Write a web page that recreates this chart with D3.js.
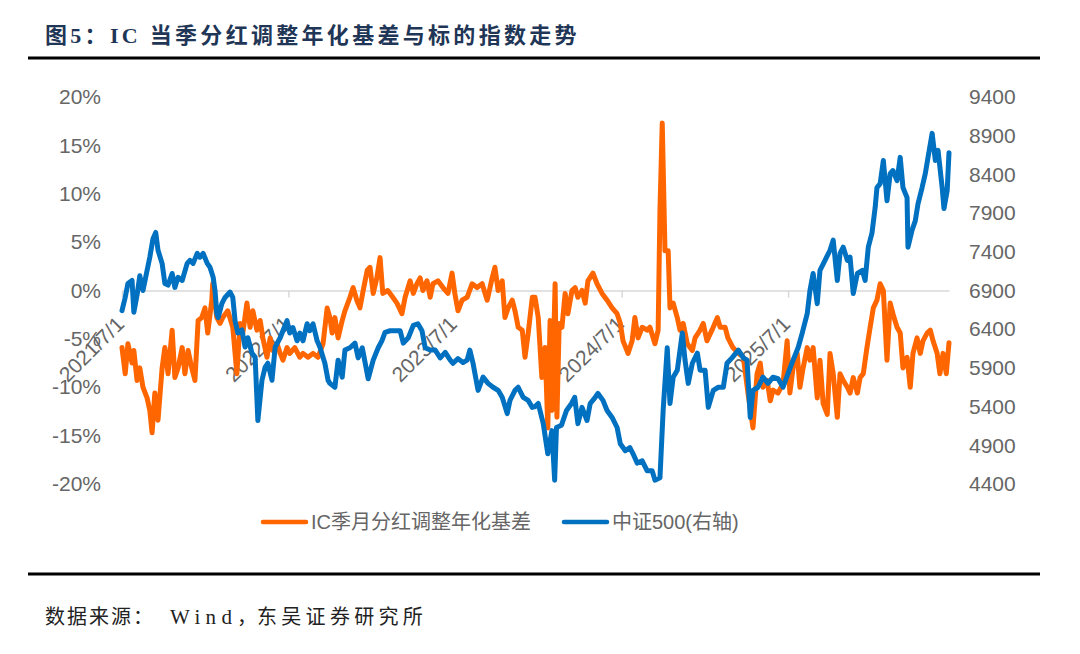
<!DOCTYPE html>
<html>
<head>
<meta charset="utf-8">
<script src="https://cdn.jsdelivr.net/npm/d3@7"></script>
<style>
    body { margin: 0; background: #fff; }
    svg { display: block; }
</style>
</head>
<body>
<svg></svg>
<script>
const width = 1080,
    height = 654;

const titleText = "图5：IC 当季分红调整年化基差与标的指数走势";
const sourceParts = ["数据来源：", "Wind", "，", "东吴证券研究所"];
const seriesNames = ["IC季月分红调整年化基差", "中证500(右轴)"];
const seriesColors = ["#ff6600", "#0070c0"];

const leftTicks = [-20, -15, -10, -5, 0, 5, 10, 15, 20];
const rightTicks = [4400, 4900, 5400, 5900, 6400, 6900, 7400, 7900, 8400, 8900, 9400];
const xTicks = ["2021-07-01", "2022-07-01", "2023-07-01", "2024-07-01", "2025-07-01"];

// IC 季月分红调整年化基差 (%)
const basis = [
    ["2021-07-01",-5.9],["2021-07-08",-8.6],["2021-07-14",-5.5],["2021-07-23",-7.5],["2021-07-27",-6.2],
    ["2021-08-03",-9.3],["2021-08-09",-8.0],["2021-08-16",-10.0],["2021-08-25",-11.1],["2021-08-31",-12.4],
    ["2021-09-05",-14.7],["2021-09-11",-10.6],["2021-09-18",-13.4],["2021-09-27",-8.0],["2021-10-03",-5.9],
    ["2021-10-10",-8.6],["2021-10-19",-4.1],["2021-10-25",-9.0],["2021-11-01",-8.0],["2021-11-10",-5.9],
    ["2021-11-16",-8.6],["2021-11-23",-6.2],["2021-12-01",-8.0],["2021-12-08",-9.3],["2021-12-15",-3.1],
    ["2021-12-23",-2.8],["2021-12-30",-1.8],["2022-01-05",-4.4],["2022-01-14",-1.0],["2022-01-16",0.7],
    ["2022-01-25",-2.8],["2022-02-01",-3.4],["2022-02-07",-2.8],["2022-02-18",-2.1],["2022-03-01",-3.8],
    ["2022-03-10",-8.6],["2022-03-17",-3.4],["2022-03-23",-4.4],["2022-04-01",-1.3],["2022-04-08",-3.8],
    ["2022-04-14",-2.1],["2022-04-23",-4.1],["2022-04-30",-3.1],["2022-05-06",-4.9],["2022-05-15",-6.9],
    ["2022-05-22",-4.9],["2022-05-28",-6.2],["2022-06-06",-5.5],["2022-06-13",-6.5],["2022-06-19",-7.2],
    ["2022-06-28",-5.9],["2022-07-04",-6.5],["2022-07-15",-5.9],["2022-07-26",-6.9],["2022-08-02",-6.5],
    ["2022-08-13",-6.9],["2022-08-24",-6.5],["2022-09-04",-6.9],["2022-09-15",-5.5],["2022-09-24",-1.8],
    ["2022-09-30",-2.8],["2022-10-05",-4.4],["2022-10-11",-2.8],["2022-10-18",-4.9],["2022-10-27",-3.1],
    ["2022-11-02",-2.1],["2022-11-13",-0.7],["2022-11-20",0.3],["2022-11-28",-1.0],["2022-12-05",-1.8],
    ["2022-12-12",0],["2022-12-21",2.1],["2022-12-27",2.4],["2023-01-03",-0.3],["2023-01-11",1.3],
    ["2023-01-18",3.4],["2023-01-24",-0.3],["2023-02-04",0],["2023-02-15",-0.7],["2023-02-24",-1.3],
    ["2023-03-07",-2.4],["2023-03-14",-0.7],["2023-03-25",1.0],["2023-04-01",-0.3],["2023-04-09",0.7],
    ["2023-04-16",1.3],["2023-04-22",0],["2023-05-01",1.0],["2023-05-08",-0.7],["2023-05-14",0.7],
    ["2023-05-25",1.0],["2023-06-05",0.3],["2023-06-16",-0.3],["2023-06-25",1.8],["2023-07-01",-0.3],
    ["2023-07-08",-2.1],["2023-07-17",-1.0],["2023-07-28",-0.7],["2023-08-08",0.7],["2023-08-19",0.3],
    ["2023-08-30",0.7],["2023-09-10",-1.0],["2023-09-21",1.3],["2023-09-27",2.4],["2023-10-04",0],
    ["2023-10-13",1.0],["2023-10-19",-2.8],["2023-10-26",-1.8],["2023-11-04",-1.0],["2023-11-10",-2.1],
    ["2023-11-17",-3.8],["2023-11-26",-4.1],["2023-12-02",-6.9],["2023-12-09",-4.4],["2023-12-18",-0.7],
    ["2023-12-24",-0.7],["2023-12-31",-2.8],["2024-01-08",-9.0],["2024-01-15",-5.9],["2024-01-21",-14.2],
    ["2024-01-26",-3.1],["2024-01-30",-12.4],["2024-02-06",0.7],["2024-02-10",-13.1],["2024-02-15",-3.4],
    ["2024-02-21",-3.8],["2024-02-28",-0.3],["2024-03-05",-2.4],["2024-03-14",0],["2024-03-21",0.3],
    ["2024-03-27",-0.7],["2024-04-05",0],["2024-04-12",-1.3],["2024-04-18",1.0],["2024-04-29",1.8],
    ["2024-05-08",0.7],["2024-05-19",-0.3],["2024-05-30",-1.0],["2024-06-10",-1.8],["2024-06-21",-2.4],
    ["2024-06-28",-3.4],["2024-07-04",-5.2],["2024-07-15",-6.5],["2024-07-24",-5.2],["2024-07-30",-2.8],
    ["2024-08-06",-4.9],["2024-08-15",-3.8],["2024-08-26",-4.1],["2024-09-01",-3.8],["2024-09-12",-5.5],
    ["2024-09-19",-4.1],["2024-09-23",8.3],["2024-09-28",17.3],["2024-10-04",4.1],["2024-10-11",4.1],
    ["2024-10-15",-1.8],["2024-10-22",-1.3],["2024-10-31",-2.8],["2024-11-06",-4.1],["2024-11-13",-3.4],
    ["2024-11-22",-5.5],["2024-12-03",-6.2],["2024-12-09",-4.9],["2024-12-20",-4.1],["2024-12-27",-3.4],
    ["2025-01-04",-5.2],["2025-01-15",-4.1],["2025-01-27",-2.8],["2025-02-02",-3.8],["2025-02-13",-3.8],
    ["2025-02-19",-4.9],["2025-03-02",-5.9],["2025-03-14",-6.5],["2025-03-25",-6.9],["2025-04-04",-10.6],
    ["2025-04-15",-14.2],["2025-04-24",-8.6],["2025-05-01",-7.5],["2025-05-07",-10.0],["2025-05-16",-9.3],
    ["2025-05-23",-11.4],["2025-05-29",-10.3],["2025-06-09",-10.6],["2025-06-20",-9.6],["2025-06-29",-5.2],
    ["2025-07-05",-10.6],["2025-07-12",-8.0],["2025-07-21",-6.5],["2025-07-27",-10.0],["2025-08-03",-8.0],
    ["2025-08-12",-5.9],["2025-08-18",-7.2],["2025-08-25",-5.9],["2025-09-03",-11.1],["2025-09-09",-7.2],
    ["2025-09-16",-11.7],["2025-09-25",-12.8],["2025-10-01",-6.5],["2025-10-08",-8.6],["2025-10-17",-13.1],
    ["2025-10-23",-8.6],["2025-10-30",-9.3],["2025-11-08",-10.0],["2025-11-14",-10.6],["2025-11-21",-9.0],
    ["2025-11-30",-10.6],["2025-12-06",-9.0],["2025-12-13",-8.6],["2025-12-21",-5.9],["2025-12-28",-3.8],
    ["2026-01-04",-1.8],["2026-01-12",-1.0],["2026-01-19",0.7],["2026-01-26",0],["2026-02-03",-7.2],
    ["2026-02-10",-1.3],["2026-02-16",-2.4],["2026-02-25",-3.8],["2026-03-04",-4.4],["2026-03-10",-8.0],
    ["2026-03-19",-6.9],["2026-03-26",-10.0],["2026-04-01",-6.5],["2026-04-10",-4.9],["2026-04-17",-6.5],
    ["2026-04-23",-5.2],["2026-05-02",-4.4],["2026-05-09",-4.1],["2026-05-15",-5.2],["2026-05-24",-6.5],
    ["2026-05-30",-8.6],["2026-06-06",-6.5],["2026-06-13",-8.6],["2026-06-19",-5.4]
];

// 中证500 (右轴)
const csi500 = [
    ["2021-07-01",6640],["2021-07-08",6810],["2021-07-14",6990],["2021-07-23",7030],["2021-07-27",6620],
    ["2021-08-03",6840],["2021-08-09",7090],["2021-08-16",6900],["2021-08-25",7160],["2021-08-31",7330],
    ["2021-09-07",7570],["2021-09-13",7650],["2021-09-18",7420],["2021-09-27",7250],["2021-10-03",6990],
    ["2021-10-10",6970],["2021-10-19",7120],["2021-10-25",6940],["2021-11-01",7070],["2021-11-10",7030],
    ["2021-11-21",7250],["2021-11-27",7290],["2021-12-04",7250],["2021-12-13",7380],["2021-12-19",7330],
    ["2021-12-26",7380],["2022-01-04",7250],["2022-01-10",7200],["2022-01-17",7070],["2022-01-21",6900],
    ["2022-01-25",6600],["2022-01-28",6550],["2022-02-05",6730],["2022-02-12",6810],["2022-02-23",6880],
    ["2022-03-01",6810],["2022-03-06",6510],["2022-03-12",6350],["2022-03-21",6390],["2022-03-28",6170],
    ["2022-04-03",6290],["2022-04-12",6090],["2022-04-19",6040],["2022-04-25",5220],["2022-05-04",5740],
    ["2022-05-11",5910],["2022-05-17",5960],["2022-05-26",5740],["2022-06-02",6170],["2022-06-13",6290],
    ["2022-06-19",6380],["2022-06-28",6510],["2022-07-04",6350],["2022-07-11",6420],["2022-07-20",6250],
    ["2022-07-26",6350],["2022-08-02",6250],["2022-08-11",6470],["2022-08-17",6380],["2022-08-24",6470],
    ["2022-09-02",6250],["2022-09-08",6170],["2022-09-19",5960],["2022-09-26",5740],["2022-09-30",5700],
    ["2022-10-11",5650],["2022-10-18",6000],["2022-10-27",5780],["2022-11-02",6130],["2022-11-13",6160],
    ["2022-11-24",6220],["2022-12-01",6030],["2022-12-10",6160],["2022-12-23",5760],["2023-01-03",6000],
    ["2023-01-14",6160],["2023-01-22",6250],["2023-01-29",6360],["2023-02-09",6380],["2023-02-20",6380],
    ["2023-03-03",6380],["2023-03-10",6220],["2023-03-21",6290],["2023-04-01",6450],["2023-04-11",6470],
    ["2023-04-20",6380],["2023-04-27",6160],["2023-05-08",6130],["2023-05-19",6130],["2023-05-30",6030],
    ["2023-06-10",6100],["2023-06-21",6000],["2023-06-27",5960],["2023-07-08",6020],["2023-07-19",5970],
    ["2023-07-28",6000],["2023-08-03",6130],["2023-08-10",5960],["2023-08-21",5610],["2023-09-01",5780],
    ["2023-09-12",5700],["2023-09-23",5650],["2023-10-04",5610],["2023-10-13",5520],["2023-10-24",5310],
    ["2023-10-30",5480],["2023-11-10",5610],["2023-11-17",5650],["2023-11-28",5520],["2023-12-09",5480],
    ["2023-12-18",5390],["2023-12-24",5400],["2023-12-31",5440],["2024-01-11",5180],["2024-01-21",4790],
    ["2024-01-30",5090],["2024-02-05",4450],["2024-02-09",5130],["2024-02-20",5160],["2024-03-02",5350],
    ["2024-03-13",5440],["2024-03-20",5520],["2024-03-27",5180],["2024-04-05",5390],["2024-04-16",5220],
    ["2024-04-23",5440],["2024-05-04",5520],["2024-05-10",5570],["2024-05-21",5480],["2024-05-30",5350],
    ["2024-06-10",5260],["2024-06-21",5130],["2024-06-28",4920],["2024-07-09",4830],["2024-07-19",4870],
    ["2024-07-26",4790],["2024-08-04",4670],["2024-08-15",4700],["2024-08-26",4570],["2024-09-06",4570],
    ["2024-09-12",4450],["2024-09-23",4480],["2024-09-30",5350],["2024-10-09",6160],["2024-10-15",5440],
    ["2024-10-22",5780],["2024-10-31",5870],["2024-11-11",6350],["2024-11-17",6000],["2024-11-24",5700],
    ["2024-12-03",5960],["2024-12-14",6090],["2024-12-20",5870],["2024-12-31",5870],["2025-01-07",5390],
    ["2025-01-18",5610],["2025-01-29",5650],["2025-02-09",5650],["2025-02-17",5960],["2025-02-28",6030],
    ["2025-03-14",6130],["2025-03-25",6030],["2025-04-02",6000],["2025-04-09",5260],["2025-04-15",5610],
    ["2025-04-26",5650],["2025-05-07",5780],["2025-05-18",5700],["2025-05-29",5780],["2025-06-09",5760],
    ["2025-06-20",5650],["2025-07-01",5830],["2025-07-12",6000],["2025-07-23",6160],["2025-08-01",6350],
    ["2025-08-12",6600],["2025-08-18",6900],["2025-08-25",7120],["2025-09-03",6730],["2025-09-09",7160],
    ["2025-09-20",7290],["2025-10-01",7420],["2025-10-08",7550],["2025-10-17",7030],["2025-10-23",7380],
    ["2025-10-30",7460],["2025-11-08",7290],["2025-11-14",7330],["2025-11-21",6860],["2025-11-30",7120],
    ["2025-12-11",7160],["2025-12-17",7030],["2025-12-24",7460],["2026-01-01",7640],["2026-01-08",7970],
    ["2026-01-12",8230],["2026-01-19",8280],["2026-01-26",8580],["2026-02-03",8060],["2026-02-10",8410],
    ["2026-02-16",8450],["2026-02-25",8320],["2026-03-04",8620],["2026-03-10",8230],["2026-03-19",8100],
    ["2026-03-21",7460],["2026-03-30",7680],["2026-04-06",7800],["2026-04-12",8020],["2026-04-21",8230],
    ["2026-04-28",8410],["2026-05-04",8620],["2026-05-13",8930],["2026-05-20",8580],["2026-05-26",8710],
    ["2026-06-04",8230],["2026-06-08",7960],["2026-06-15",8190],["2026-06-19",8680]
];

const parseDate = d3.timeParse("%Y-%m-%d");
const formatTick = d3.timeFormat("%Y/%-m/%-d");
const basisData = basis.map((d) => ({ date: parseDate(d[0]), value: d[1] }));
const csiData = csi500.map((d) => ({ date: parseDate(d[0]), value: d[1] }));

const plot = { left: 122, right: 949, top: 97, bottom: 484 };
const labelFont = "'Liberation Sans', Arial, 'Noto Sans CJK SC', sans-serif";
const serifFont = "'Liberation Serif', 'Noto Sans CJK SC', serif";
const labelColor = "#666666";

const svg = d3.select("svg").attr("width", width).attr("height", height);

const xScale = d3
    .scaleTime()
    .domain(d3.extent(basisData, (d) => d.date))
    .range([plot.left, plot.right]);

const yLeft = d3
    .scaleLinear()
    .domain([d3.min(leftTicks), d3.max(leftTicks)])
    .range([plot.bottom, plot.top]);

const yRight = d3
    .scaleLinear()
    .domain([d3.min(rightTicks), d3.max(rightTicks)])
    .range([plot.bottom, plot.top]);

// title and rules
svg.append("text")
    .attr("x", 45)
    .attr("y", 43)
    .attr("font-family", serifFont)
    .attr("font-weight", "bold")
    .attr("font-size", 22)
    .attr("letter-spacing", 3.3)
    .attr("fill", "#1f3656")
    .text(titleText);

svg.append("line")
    .attr("x1", 28).attr("x2", 1040)
    .attr("y1", 58).attr("y2", 58)
    .attr("stroke", "#000").attr("stroke-width", 3);

svg.append("line")
    .attr("x1", 28).attr("x2", 1040)
    .attr("y1", 574).attr("y2", 574)
    .attr("stroke", "#000").attr("stroke-width", 3);

// source line: CJK spaced out, "Wind" stretched to its width in the original
const source = svg.append("text")
    .attr("y", 624)
    .attr("font-family", serifFont)
    .attr("font-size", 20)
    .attr("fill", "#222");
source.append("tspan").attr("x", 45).attr("letter-spacing", 2).text(sourceParts[0]);
source.append("tspan").attr("x", 170).attr("font-size", 21)
    .attr("textLength", 62).attr("lengthAdjust", "spacing").text(sourceParts[1]);
source.append("tspan").attr("x", 237).text(sourceParts[2]);
source.append("tspan").attr("x", 257).attr("letter-spacing", 4.3).text(sourceParts[3]);

// left axis
const leftAxis = d3.axisLeft(yLeft)
    .tickValues(leftTicks)
    .tickSize(0)
    .tickPadding(0)
    .tickFormat((d) => d + "%");

svg.append("g")
    .attr("transform", "translate(101,0)")
    .call(leftAxis)
    .call((g) => g.select(".domain").remove())
    .call((g) => g.selectAll("text")
        .attr("font-family", labelFont)
        .attr("font-size", 21)
        .attr("fill", labelColor));

// right axis
const rightAxis = d3.axisRight(yRight)
    .tickValues(rightTicks)
    .tickSize(0)
    .tickPadding(0)
    .tickFormat(d3.format("d"));

svg.append("g")
    .attr("transform", "translate(969,0)")
    .call(rightAxis)
    .call((g) => g.select(".domain").remove())
    .call((g) => g.selectAll("text")
        .attr("font-family", labelFont)
        .attr("font-size", 21)
        .attr("fill", labelColor));

// x axis sits on the 0% line
const xAxis = d3.axisBottom(xScale)
    .tickValues(xTicks.map(parseDate))
    .tickSizeInner(7)
    .tickSizeOuter(0)
    .tickFormat(formatTick);

svg.append("g")
    .attr("transform", `translate(0, ${yLeft(0)})`)
    .call(xAxis)
    .call((g) => g.select(".domain").attr("stroke", "#d9d9d9").attr("stroke-width", 1.5))
    .call((g) => g.selectAll(".tick line").attr("stroke", "#d9d9d9").attr("stroke-width", 1.5))
    .call((g) => g.selectAll(".tick text")
        .attr("font-family", labelFont)
        .attr("font-size", 21)
        .attr("fill", labelColor)
        .attr("text-anchor", "end")
        .attr("dy", 0)
        .attr("y", 0)
        .attr("transform", "translate(3, 35) rotate(-45)"));

// series
const basisLine = d3.line()
    .x((d) => xScale(d.date))
    .y((d) => yLeft(d.value));

const csiLine = d3.line()
    .x((d) => xScale(d.date))
    .y((d) => yRight(d.value));

svg.append("path")
    .datum(basisData)
    .attr("fill", "none")
    .attr("stroke", seriesColors[0])
    .attr("stroke-width", 5)
    .attr("stroke-linejoin", "round")
    .attr("stroke-linecap", "round")
    .attr("d", basisLine);

svg.append("path")
    .datum(csiData)
    .attr("fill", "none")
    .attr("stroke", seriesColors[1])
    .attr("stroke-width", 5)
    .attr("stroke-linejoin", "round")
    .attr("stroke-linecap", "round")
    .attr("d", csiLine);

// legend
const legendItems = [
    { name: seriesNames[0], color: seriesColors[0], x: 263 },
    { name: seriesNames[1], color: seriesColors[1], x: 564 },
];

const legend = svg.selectAll(".legend")
    .data(legendItems)
    .enter()
    .append("g")
    .attr("class", "legend")
    .attr("transform", (d) => `translate(${d.x}, 522)`);

legend.append("line")
    .attr("x1", 0).attr("x2", 43)
    .attr("y1", 0).attr("y2", 0)
    .attr("stroke", (d) => d.color)
    .attr("stroke-width", 4.5)
    .attr("stroke-linecap", "round");

legend.append("text")
    .attr("x", 48)
    .attr("y", 0)
    .attr("dominant-baseline", "central")
    .attr("font-family", labelFont)
    .attr("font-size", 20)
    .attr("fill", labelColor)
    .text((d) => d.name);
</script>
</body>
</html>
